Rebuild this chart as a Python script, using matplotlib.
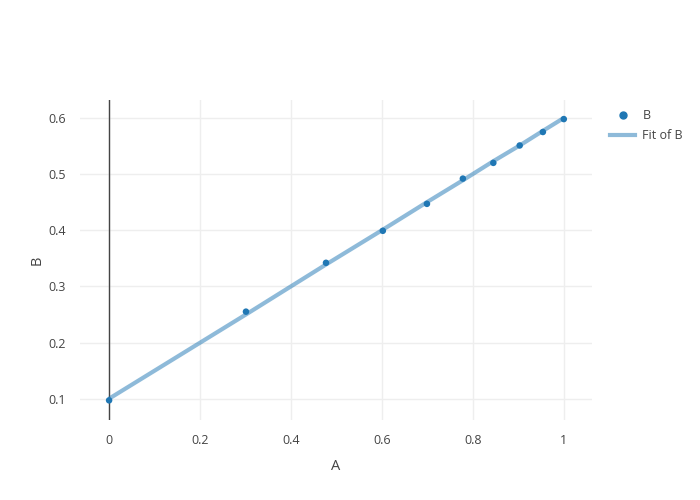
import matplotlib
matplotlib.use('Agg')
import matplotlib.pyplot as plt
from matplotlib.lines import Line2D

plt.rcParams['font.family'] = ['Open Sans', 'DejaVu Sans']

# data
A = [0, 0.301, 0.477, 0.602, 0.699, 0.778, 0.845, 0.903, 0.954, 1.0]
B = [0.097, 0.255, 0.342, 0.399, 0.447, 0.492, 0.52, 0.551, 0.575, 0.598]
fit_B = [0.1, 0.25, 0.339, 0.401, 0.45, 0.489, 0.523, 0.551, 0.577, 0.6]

x_ticks = [0, 0.2, 0.4, 0.6, 0.8, 1]
x_tick_labels = ['0', '0.2', '0.4', '0.6', '0.8', '1']
y_ticks = [0.1, 0.2, 0.3, 0.4, 0.5, 0.6]

txt = '#444444'
fig = plt.figure(figsize=(7, 5), dpi=100)
ax = fig.add_axes([80 / 700, 80 / 500, 512 / 700, 320 / 500])

ax.plot(A, fit_B, color='#1f77b4', alpha=0.5, lw=3, solid_capstyle='butt', zorder=3)
ax.scatter(A, B, s=22, color='#1f77b4', zorder=4, edgecolors='none')
ax.axvline(0, color='#444444', lw=1, zorder=2)

ax.set_xlim(-0.064, 1.062)
ax.set_ylim(0.062, 0.632)
ax.set_xticks(x_ticks)
ax.set_xticklabels(x_tick_labels)
ax.set_yticks(y_ticks)
ax.grid(True, color='#eeeeee', lw=1)
ax.set_axisbelow(True)
for s in ax.spines.values():
    s.set_visible(False)
ax.tick_params(length=0, labelsize=9, colors=txt, pad=10)
ax.set_xlabel('A', fontsize=10.5, color=txt)
ax.set_ylabel('B', fontsize=10.5, color=txt)
ax.xaxis.set_label_coords((336 - 80) / 512, -(466 - 420) / 320)
ax.yaxis.set_label_coords(-(80 - 37) / 512, (420 - 260) / 320)
ax.xaxis.label.set_va('center')
ax.yaxis.label.set_va('center')

handles = [
    Line2D([], [], marker='o', ls='none', color='#1f77b4', markersize=5),
    Line2D([], [], color='#1f77b4', alpha=0.5, lw=3),
]
fig.legend(handles, ['B', 'Fit of B'], loc='upper left', bbox_to_anchor=(605 / 700, 1 - 104 / 500),
           frameon=False, fontsize=9, labelcolor=txt, handlelength=2.0, handletextpad=0.6,
           labelspacing=0.55, borderaxespad=0)

fig.savefig('out.png', dpi=100)
